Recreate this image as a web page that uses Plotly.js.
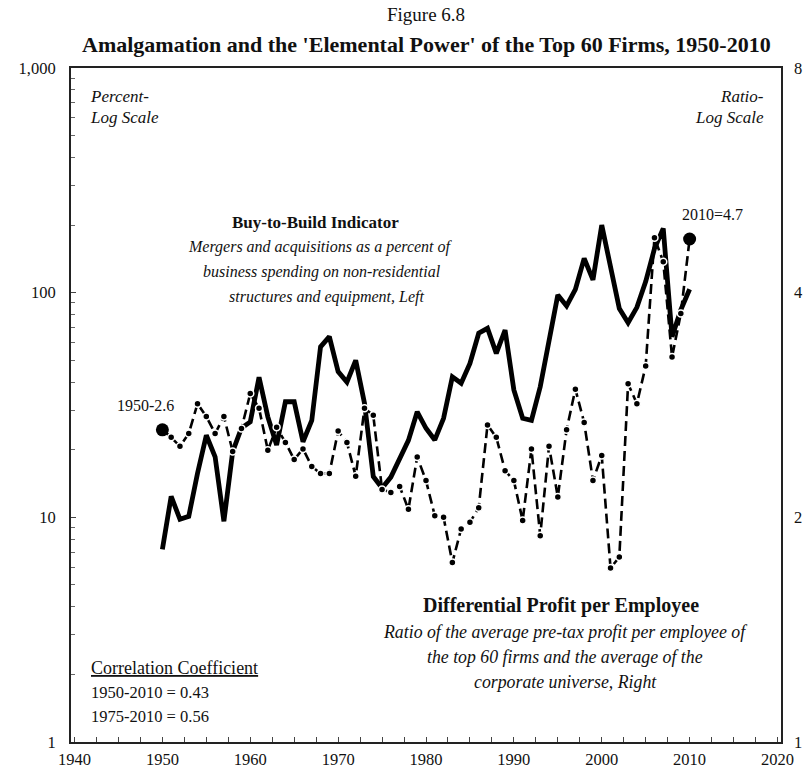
<!DOCTYPE html>
<html>
<head>
<meta charset="utf-8">
<script src="https://cdn.plot.ly/plotly-3.0.1.min.js"></script>
<style>html,body{margin:0;padding:0;background:#fff;}#chart{width:807px;height:772px;}</style>
</head>
<body>
<div id="chart"></div>
<script>
var years = [1950,1951,1952,1953,1954,1955,1956,1957,1958,1959,
  1960,1961,1962,1963,1964,1965,1966,1967,1968,1969,
  1970,1971,1972,1973,1974,1975,1976,1977,1978,1979,
  1980,1981,1982,1983,1984,1985,1986,1987,1988,1989,
  1990,1991,1992,1993,1994,1995,1996,1997,1998,1999,
  2000,2001,2002,2003,2004,2005,2006,2007,2008,2009,2010];

// Buy-to-Build Indicator (percent, left axis)
var buyToBuild = [7.2,12.4,9.8,10.1,15.7,23.2,18.6,9.6,19.6,25,
  26.6,42,28,21,32.7,32.7,21.7,27,57.4,63.7,
  44.5,40,50,32.2,15.2,13.5,15.1,18,22,29.5,
  24.9,22.1,27.6,42.2,39.5,48.4,66,69.4,53.7,68.2,
  36.9,27.6,27,38.1,61.5,97.6,87.3,103.5,142,114,
  200,130,85,73.5,86,112,157,193,63.7,83.8,103.5];

// Differential Profit per Employee (ratio, right axis)
var profitRatio = [2.62,2.56,2.49,2.59,2.84,2.73,2.59,2.73,2.45,2.63,
  2.93,2.80,2.46,2.64,2.52,2.39,2.47,2.34,2.29,2.29,
  2.61,2.52,2.27,2.80,2.74,2.18,2.16,2.20,2.05,2.41,
  2.24,2.01,2.00,1.74,1.93,1.97,2.06,2.66,2.56,2.31,
  2.24,1.98,2.47,1.89,2.49,2.13,2.62,2.97,2.68,2.24,
  2.42,1.71,1.77,3.02,2.84,3.19,4.74,4.40,3.28,3.75,4.72];

var leftTicks = [1,10,100,1000];
var leftTickText = ['1','10','100','1,000'];
var rightTicks = [1,2,4,8];

var FONT = 'Liberation Serif, Times New Roman, serif';
var INK = '#111';

var n = profitRatio.length;
var mSize = profitRatio.map(function(v,i){ return (i===0||i===n-1) ? 13 : 7; });
var mLineW = profitRatio.map(function(v,i){ return (i===0||i===n-1) ? 0 : 1.5; });

var minorLeft = [];
[1,10,100].forEach(function(d){ for (var k=2;k<=9;k++) minorLeft.push(k*d); });

var traces = [
  {
    x: years, y: buyToBuild, type: 'scatter', mode: 'lines',
    line: {color: '#000', width: 4.8}, yaxis: 'y', hoverinfo: 'skip'
  },
  {
    x: years, y: profitRatio, type: 'scatter', mode: 'lines+markers',
    line: {color: '#000', width: 2.6, dash: '10px,5px'},
    marker: {color: '#000', opacity: 1, size: mSize, line: {color: '#fff', width: mLineW}},
    yaxis: 'y2', hoverinfo: 'skip'
  }
];

function px(x){ return (x-71)/710; }
function py(y){ return (742-y)/674; }

function ann(text, x, y, opts){
  var a = {text: text, x: px(x), y: py(y), xref: 'paper', yref: 'paper',
    showarrow: false, xanchor: 'center', yanchor: 'middle',
    font: {family: FONT, size: 16, color: INK}};
  for (var k in opts) a[k] = opts[k];
  return a;
}
function f(sz){ return {family: FONT, size: sz, color: INK}; }

var annotations = [
  ann('Figure 6.8', 426, 15, {font: f(19)}),
  ann('<b>Amalgamation and the \'Elemental Power\' of the Top 60 Firms, 1950-2010</b>', 426, 44, {font: f(22)}),
  ann('<i>Percent-</i>', 88, 96, {xanchor:'left', font: f(17)}),
  ann('<i>Log Scale</i>', 88, 117, {xanchor:'left', font: f(17)}),
  ann('<i>Ratio-</i>', 766, 96, {xanchor:'right', font: f(17)}),
  ann('<i>Log Scale</i>', 766, 117, {xanchor:'right', font: f(17)}),
  ann('<b>Buy-to-Build Indicator</b>', 315, 222, {font: f(17)}),
  ann('<i>Mergers and acquisitions as a percent of</i>', 320, 247),
  ann('<i>business spending on non-residential</i>', 322, 272),
  ann('<i>structures and equipment, Left</i>', 327, 297),
  ann('<b>Differential Profit per Employee</b>', 561, 605, {font: f(20)}),
  ann('<i>Ratio of the average pre-tax profit per employee of</i>', 565, 632, {font: f(17.8)}),
  ann('<i>the top 60 firms and the average of the</i>', 565, 657, {font: f(17.8)}),
  ann('<i>corporate universe, Right</i>', 565, 682, {font: f(17.8)}),
  ann('<u>Correlation Coefficient</u>', 89, 668, {xanchor:'left', font: f(18)}),
  ann('1950-2010 = 0.43', 89, 692, {xanchor:'left', font: f(16.5)}),
  ann('1975-2010 = 0.56', 89, 716, {xanchor:'left', font: f(16.5)}),
  ann('1950-2.6', 145, 405),
  ann('2010=4.7', 712, 214)
];

var layout = {
  width: 807, height: 772,
  margin: {l: 71, r: 26, t: 68, b: 30},
  paper_bgcolor: '#fff', plot_bgcolor: '#fff',
  showlegend: false,
  font: {family: FONT, size: 16, color: INK},
  xaxis: {
    range: [1939.6, 2020.4], tickmode: 'linear', tick0: 1940, dtick: 10,
    ticks: 'inside', ticklen: 5, tickwidth: 1, tickcolor: '#444',
    minor: {tick0: 1940, dtick: 2.5, ticks: 'inside', ticklen: 5, tickwidth: 1, tickcolor: '#444'},
    showgrid: false, zeroline: false,
    showline: true, linecolor: '#222', linewidth: 2, mirror: true,
    ticklabelstandoff: 1,
    tickfont: f(16.5)
  },
  yaxis: {
    type: 'log', range: [0, 3],
    tickmode: 'array', tickvals: leftTicks, ticktext: leftTickText,
    ticks: 'inside', ticklen: 5, tickcolor: '#444',
    minor: {tickmode: 'array', tickvals: minorLeft, ticks: 'inside', ticklen: 4, tickcolor: '#666'},
    showgrid: false, zeroline: false,
    showline: true, linecolor: '#222', linewidth: 2, mirror: true,
    ticklabelstandoff: 10,
    tickfont: f(16.5)
  },
  yaxis2: {
    type: 'log', range: [0, Math.log10(8)], overlaying: 'y', side: 'right',
    tickmode: 'array', tickvals: rightTicks, ticktext: rightTicks.map(String),
    ticks: '', showgrid: false, zeroline: false, showline: false,
    ticklabelstandoff: 12,
    tickfont: f(16.5)
  },
  annotations: annotations
};

Plotly.newPlot('chart', traces, layout, {staticPlot: true, displayModeBar: false});
</script>
</body>
</html>
